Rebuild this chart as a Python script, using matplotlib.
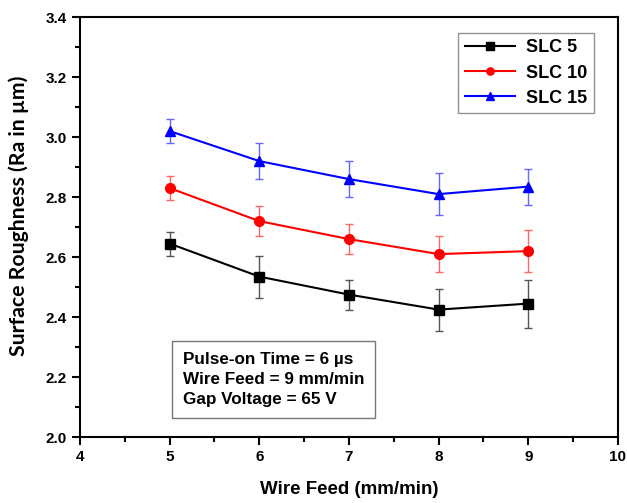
import matplotlib
matplotlib.use('Agg')
import matplotlib.pyplot as plt
from matplotlib.ticker import MultipleLocator

plt.rcParams['font.family'] = 'Liberation Sans'
plt.rcParams['font.weight'] = 'bold'

wire_feed = [5, 6, 7, 8, 9]
slc5 = [2.645, 2.535, 2.475, 2.425, 2.445]
slc5_err = [0.04, 0.07, 0.05, 0.07, 0.08]
slc10 = [2.83, 2.72, 2.66, 2.61, 2.62]
slc10_err = [0.04, 0.05, 0.05, 0.06, 0.07]
slc15 = [3.02, 2.92, 2.86, 2.81, 2.835]
slc15_err = [0.04, 0.06, 0.06, 0.07, 0.06]

series = [
	('SLC 5', slc5, slc5_err, 'black', 's', '#555555'),
	('SLC 10', slc10, slc10_err, 'red', 'o', '#ff6666'),
	('SLC 15', slc15, slc15_err, 'blue', '^', '#6666ff'),
]

fig = plt.figure(figsize=(6.27, 5.03), dpi=100)
ax = fig.add_axes([0.1276, 0.131, 0.858, 0.835])

for name, y, err, col, mk, ecol in series:
	ax.errorbar(wire_feed, y, yerr=err, fmt='none', ecolor=ecol, elinewidth=1.0, capsize=3, capthick=1.0)
	ax.plot(wire_feed, y, color=col, marker=mk, markersize=7, linewidth=1.5, label=name)

ax.set_xlim(4, 10)
ax.set_ylim(2.0, 3.4)
ax.xaxis.set_major_locator(MultipleLocator(1))
ax.xaxis.set_minor_locator(MultipleLocator(0.5))
ax.yaxis.set_major_locator(MultipleLocator(0.2))
ax.yaxis.set_minor_locator(MultipleLocator(0.1))
ax.tick_params(which='both', direction='out', width=1.5, top=False, right=False)
ax.tick_params(which='major', length=6, labelsize=11)
ax.tick_params(which='minor', length=3.5)
for lab in ax.get_xticklabels() + ax.get_yticklabels():
	lab.set_fontweight('bold')
for s in ax.spines.values():
	s.set_linewidth(1.5)

ax.set_xlabel('Wire Feed (mm/min)', fontsize=13.5, fontweight='bold', labelpad=12)
ax.set_ylabel('Surface Roughness (Ra in µm)', fontsize=15.3, fontweight='bold', family='Lato')
ax.yaxis.set_label_coords(-0.095, 0.526)

leg = ax.legend(loc='upper right', bbox_to_anchor=(0.955, 0.962), fontsize=13, frameon=True,
	fancybox=False, edgecolor='#777777', handlelength=2.8, borderpad=0.35, labelspacing=0.45,
	markerscale=0.75, handletextpad=0.6, borderaxespad=0)
leg.get_frame().set_linewidth(1.0)
for t in leg.get_texts():
	t.set_fontweight('bold')

ax.text(0.191, 0.137, 'Pulse-on Time = 6 µs\nWire Feed = 9 mm/min\nGap Voltage = 65 V',
	transform=ax.transAxes, fontsize=12.3, fontweight='bold', va='center', ha='left', linespacing=1.4,
	bbox=dict(boxstyle='square,pad=0.65', facecolor='white', edgecolor='#777777', linewidth=1.0))

fig.savefig('out.png', dpi=100)
